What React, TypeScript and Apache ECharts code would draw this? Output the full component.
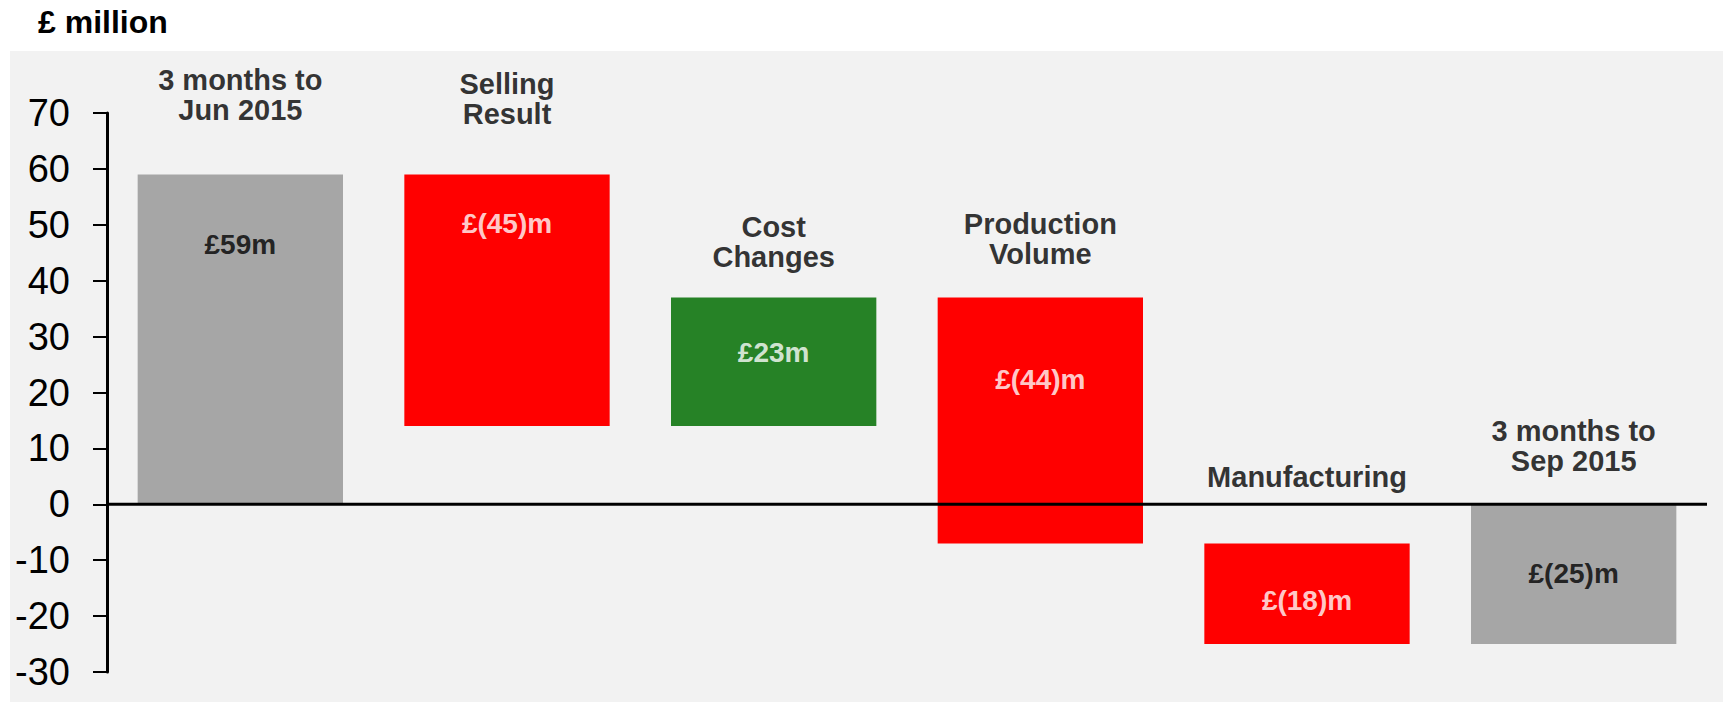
import React, { useEffect, useRef } from "react";
import * as echarts from "echarts";

const categories = [
  "3 months to\nJun 2015",
  "Selling\nResult",
  "Cost\nChanges",
  "Production\nVolume",
  "Manufacturing",
  "3 months to\nSep 2015",
];
const changes = [59, -45, 23, -44, -18, -25];
const isTotal = [true, false, false, false, false, true];
const valueLabels = ["£59m", "£(45)m", "£23m", "£(44)m", "£(18)m", "£(25)m"];
const valueLabelY = [46.5, 50.3, 27.2, 22.4, -17.2, -12.3];
const categoryLabelY = [73.3, 72.5, 47, 47.5, 4.8, 10.5];
const yTicks = { min: -30, max: 70, interval: 10 };

const GREY = "#A6A6A6";
const RED = "#FF0000";
const GREEN = "#268226";
const FONT = "'Liberation Sans', Arial, sans-serif";

export default function App() {
  const ref = useRef<HTMLDivElement>(null);
  useEffect(() => {
    document.body.style.margin = "0";
    const chart = echarts.init(ref.current!, null, { renderer: "svg" });

    let running = 0;
    const bars = changes.map((v, i) => {
      let low: number, high: number, color: string;
      if (isTotal[i]) {
        low = 0;
        high = v;
        running = v;
        color = GREY;
      } else {
        low = running;
        high = running + v;
        running = high;
        color = v >= 0 ? GREEN : RED;
      }
      return { value: [i, low, high], itemStyle: { color } };
    });

    const valueLabelData = valueLabels.map((t, i) => ({
      value: [i, valueLabelY[i]],
      name: t,
      label: { color: isTotal[i] ? "#000000" : "#FFFFFF" },
    }));
    const catLabelData = categories.map((t, i) => ({
      value: [i, categoryLabelY[i]],
      name: t,
    }));

    chart.setOption({
      animation: false,
      backgroundColor: "#FFFFFF",
      textStyle: { fontFamily: FONT },
      graphic: [
        {
          type: "rect",
          z: -10,
          silent: true,
          shape: { x: 10, y: 51, width: 1713, height: 651 },
          style: { fill: "#F2F2F2" },
        },
        {
          type: "text",
          left: 38,
          top: 6,
          style: {
            text: "£ million",
            fontFamily: FONT,
            fontSize: 32,
            fontWeight: "bold",
            fill: "#000000",
          },
        },
      ],
      grid: { left: 107, right: 16, top: 113, bottom: 30 },
      xAxis: {
        type: "value",
        min: -0.5,
        max: 5.5,
        show: false,
      },
      yAxis: {
        type: "value",
        min: yTicks.min,
        max: yTicks.max,
        interval: yTicks.interval,
        axisLine: { show: true, onZero: false, lineStyle: { color: "#000", width: 3 } },
        axisTick: { show: true, length: 14, lineStyle: { color: "#000", width: 2 } },
        axisLabel: { fontSize: 38, color: "#000", margin: 37, fontFamily: FONT },
        splitLine: { show: false },
      },
      series: [
        {
          type: "custom",
          renderItem: (params: any, api: any) => {
            const idx = api.value(0);
            const low = api.value(1);
            const high = api.value(2);
            const p1 = api.coord([idx, Math.max(low, high)]);
            const p2 = api.coord([idx, Math.min(low, high)]);
            const w = api.size([1, 0])[0] * 0.77;
            return {
              type: "rect",
              shape: { x: p1[0] - w / 2, y: p1[1], width: w, height: p2[1] - p1[1] },
              style: { fill: api.visual("color") },
            };
          },
          encode: { x: 0, y: [1, 2] },
          data: bars,
          z: 2,
        },
        {
          type: "line",
          data: [
            [-0.5, 0],
            [5.5, 0],
          ],
          symbol: "none",
          lineStyle: { color: "#000", width: 3 },
          z: 3,
          silent: true,
        },
        {
          type: "scatter",
          symbolSize: 0,
          clip: false,
          z: 5,
          data: valueLabelData,
          label: {
            show: true,
            position: "inside",
            formatter: (p: any) => p.name,
            fontSize: 28,
            fontWeight: "bold",
            textBorderWidth: 0,
            fontFamily: FONT,
          },
        },
        {
          type: "scatter",
          symbolSize: 0,
          clip: false,
          z: 5,
          data: catLabelData,
          label: {
            show: true,
            position: "inside",
            formatter: (p: any) => p.name,
            fontSize: 29,
            fontWeight: "bold",
            lineHeight: 30,
            color: "#000",
            textBorderWidth: 0,
            align: "center",
            fontFamily: FONT,
          },
        },
      ],
    });
    return () => chart.dispose();
  }, []);
  return <div ref={ref} style={{ width: 1723, height: 702 }} />;
}
